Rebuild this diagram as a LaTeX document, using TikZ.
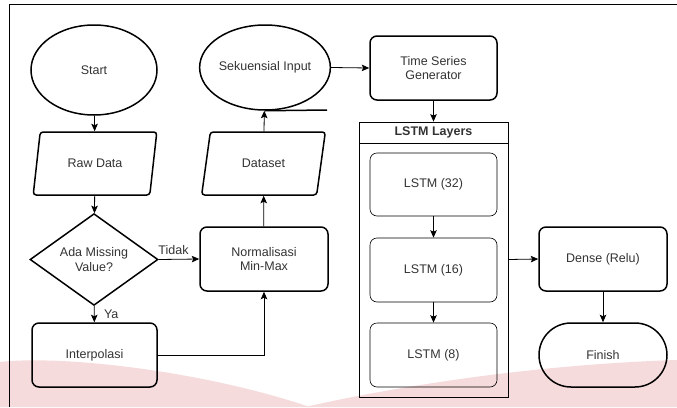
\documentclass[tikz,border=0pt]{standalone}
\usepackage{fontspec}
\setmainfont{Liberation Sans}
\usetikzlibrary{arrows,arrows.meta}
\usetikzlibrary{shapes.geometric}
\definecolor{wmpink}{RGB}{246,219,220}
\definecolor{txtgray}{RGB}{51,51,51}

\begin{document}
\begin{tikzpicture}[x=1pt, y=-1pt,
	font=\fontsize{12.5}{14.5}\selectfont, text=txtgray,
	>={Stealth[length=7.5pt, width=6.5pt, inset=1.5pt]},
	flow/.style={draw=black, line width=1.5pt, align=center, inner sep=0pt},
	term/.style={flow, ellipse},
	io/.style={flow, trapezium, trapezium left angle=68, trapezium right angle=112,
		trapezium stretches=true, rounded corners=3pt, minimum width=124, minimum height=63},
	proc/.style={flow, rectangle, rounded corners=7pt, minimum width=127, minimum height=64},
	layer/.style={proc, line width=0.6pt},
	group/.style={draw=black, line width=0.8pt, inner sep=0pt, minimum width=149},
	link/.style={->, line width=0.8pt}]

	\useasboundingbox (0,0) rectangle (677,407);

	%watermark in the background
	\fill[wmpink] (0,362) .. controls (60,355) and (200,370) .. (310,407) -- (0,407) -- cycle;
	\fill[wmpink] (305,407) .. controls (380,390) and (520,365) .. (677,360) -- (677,407) -- cycle;

	%page frame
	\draw[line width=0.9pt] (9,407) -- (9,4) -- (677,4);

	%preprocessing column
	\node[term, minimum width=126, minimum height=90] (start) at (94,70) {Start};
	\node[io] (raw) at (95,163.5) {Raw Data};
	\node[flow, diamond, minimum width=128, minimum height=85] (miss) at (94,259.5) {Ada Missing\\Value?};
	\node[proc, minimum width=125] (interp) at (94.5,355) {Interpolasi};
	\node[proc, minimum width=128] (norm) at (264,259) {Normalisasi\\Min-Max};
	\node[io] (dataset) at (263.5,163.5) {Dataset};
	\node[term, minimum width=130, minimum height=85] (seq) at (265,67.5) {Sekuensial Input};
	\coordinate (seqtail) at (327,110);

	%model column
	\node[proc] (tsg) at (433.5,68) {Time Series\\Generator};
	\node[group, minimum height=275] (layers) at (433.5,259.5) {};
	\node[group, minimum height=21] (hdr) at (433.5,132.5) {\textbf{LSTM Layers}};
	\node[layer, minimum height=63] (l32) at (433.5,184.5) {LSTM (32)};
	\node[layer] (l16) at (433.5,270) {LSTM (16)};
	\node[layer] (l8) at (433.5,355) {LSTM (8)};
	\node[proc, minimum width=128] (dense) at (603,259) {Dense (Relu)};
	\node[proc, minimum width=128, rounded corners=32pt] (finish) at (603,355) {Finish};

	%connectors
	\draw[link] (start) -- (raw);
	\draw[link] (raw) -- (miss);
	\draw[link] (miss) -- node[right, xshift=6pt] {Ya} (interp);
	\draw[link] (miss.east) -- node[pos=0, anchor=south west, xshift=-4pt, yshift=1pt] {Tidak} (norm.west);
	\draw[link] (interp.east) -| (norm.south);
	\draw[link] (norm) -- (dataset);
	\draw[link] (dataset) -- (seq);
	\draw[line width=1.5pt] (seq.south) -- (seqtail);
	\draw[link] (seq.east) -- (tsg.west);
	\draw[link] (tsg) -- (hdr);
	\draw[link] (l32) -- (l16);
	\draw[link] (l16) -- (l8);
	\draw[link] (layers.east) -- (dense.west);
	\draw[link] (dense) -- (finish);

\end{tikzpicture}
\end{document}
